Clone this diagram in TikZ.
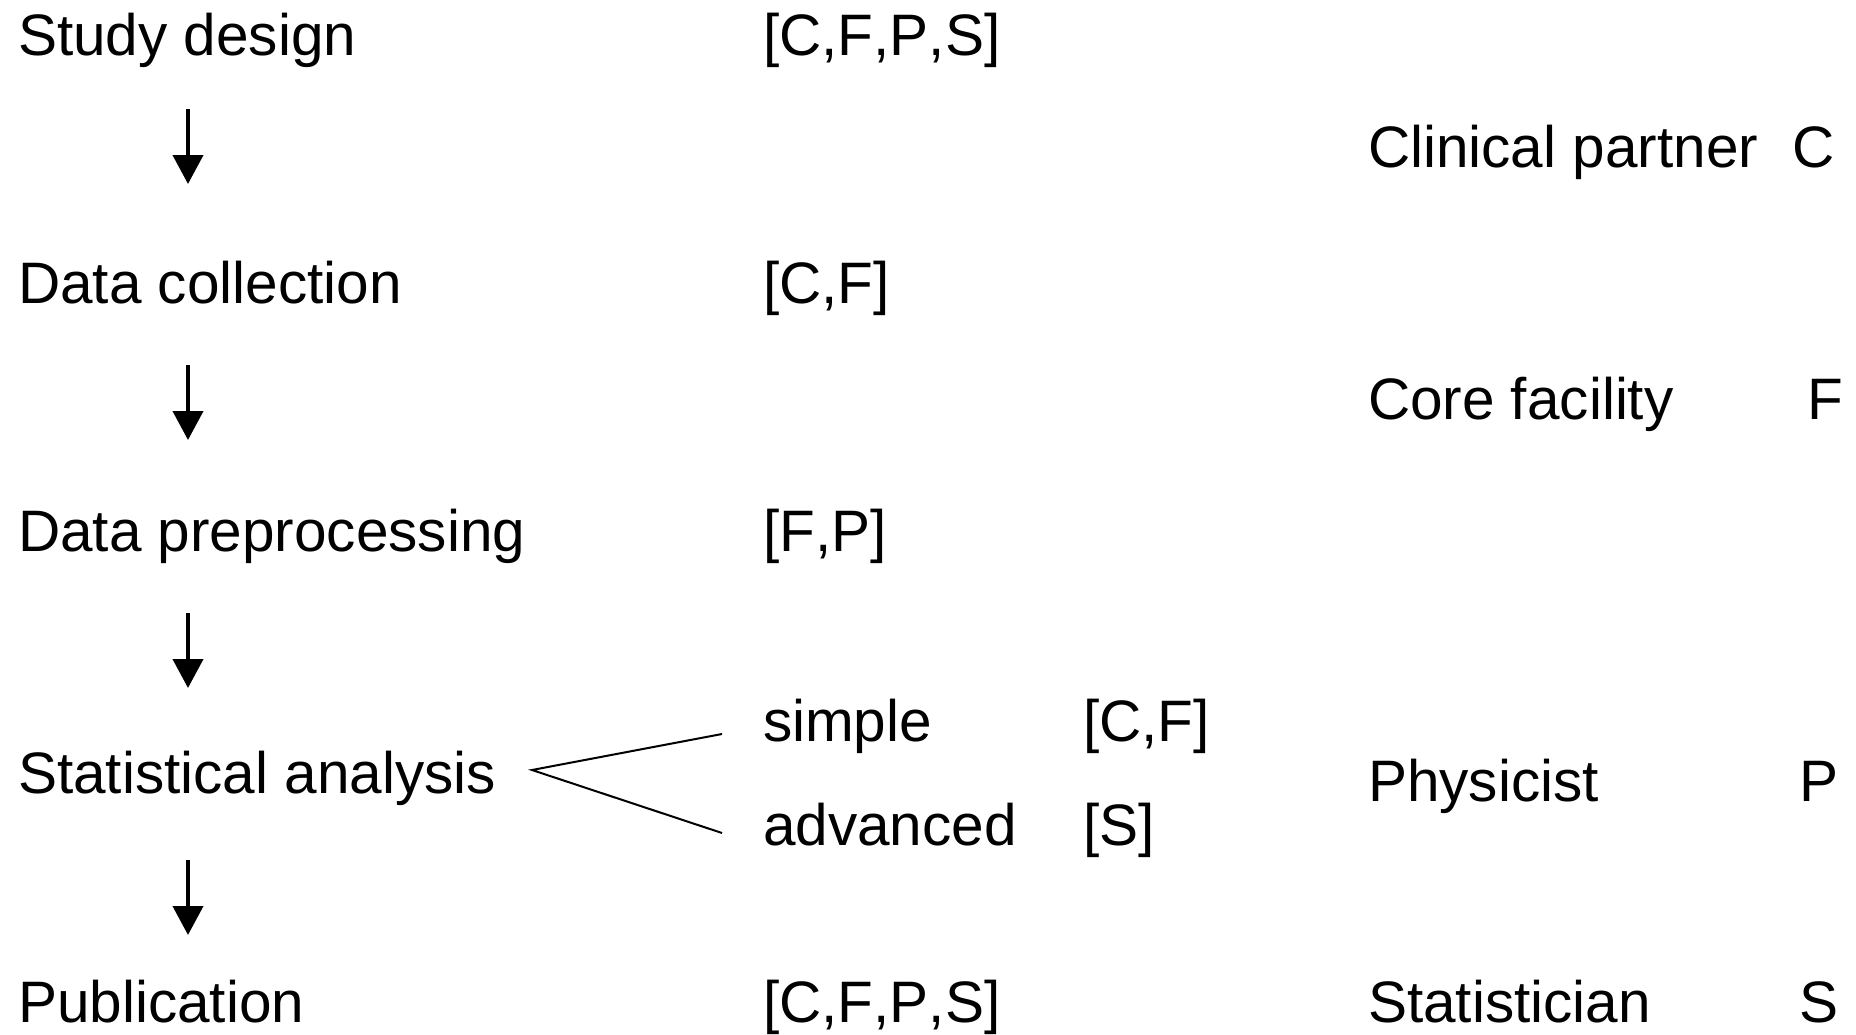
\documentclass[tikz,border=0pt]{standalone}
\usepackage{fontspec}
\setmainfont{Liberation Sans}[Kerning=Off]
\usetikzlibrary{arrows.meta}
\begin{document}
\begin{tikzpicture}[x=1pt,y=-1pt,
  lbl/.style={anchor=base west,inner sep=0pt,outer sep=0pt,font=\fontsize{58.5}{60}\selectfont},
  flow/.style={line width=4pt,-{Triangle[width=30pt,length=29pt]}},
  branch/.style={line width=2pt}]
\useasboundingbox (0,0) rectangle (1856,1034);
% left column
\node[lbl] (sd)  at (18,55)   {Study design};
\node[lbl] (dc)  at (18,303)  {Data collection};
\node[lbl] (dp)  at (18,551)  {Data preprocessing};
\node[lbl] (sa)  at (18,793)  {Statistical analysis};
\node[lbl] (pub) at (18,1022) {Publication};
% middle column
\node[lbl] (m1) at (763,55)   {[C,F,P,S]};
\node[lbl] (m2) at (763,303)  {[C,F]};
\node[lbl] (m3) at (763,551)  {[F,P]};
\node[lbl] (simple) at (763,741) {simple};
\node[lbl] (adv)    at (763,845) {advanced};
\node[lbl] (msimple) at (1083,741) {[C,F]};
\node[lbl] (madv)    at (1083,845) {[S]};
\node[lbl] (m5) at (763,1022) {[C,F,P,S]};
% legend
\node[lbl] (lc) at (1368,167)  {Clinical partner};
\node[lbl] (kc) at (1792,167)  {C};
\node[lbl] (lf) at (1368,419)  {Core facility};
\node[lbl] (kf) at (1807,419)  {F};
\node[lbl] (lp) at (1368,801)  {Physicist};
\node[lbl] (kp) at (1799,801)  {P};
\node[lbl] (ls) at (1368,1022) {Statistician};
\node[lbl] (ks) at (1799,1022) {S};
% arrows
\coordinate (a1s) at (188,109); \coordinate (a1e) at (188,184);
\coordinate (a2s) at (188,365); \coordinate (a2e) at (188,440);
\coordinate (a3s) at (188,613); \coordinate (a3e) at (188,688);
\coordinate (a4s) at (188,860); \coordinate (a4e) at (188,935);
\draw[flow] (a1s) -- (a1e);
\draw[flow] (a2s) -- (a2e);
\draw[flow] (a3s) -- (a3e);
\draw[flow] (a4s) -- (a4e);
% branch
\coordinate (apex) at (532,770);
\coordinate (bup) at (722,734);
\coordinate (bdn) at (722,833);
\draw[branch] (bup) -- (apex) -- (bdn);
\end{tikzpicture}
\end{document}
